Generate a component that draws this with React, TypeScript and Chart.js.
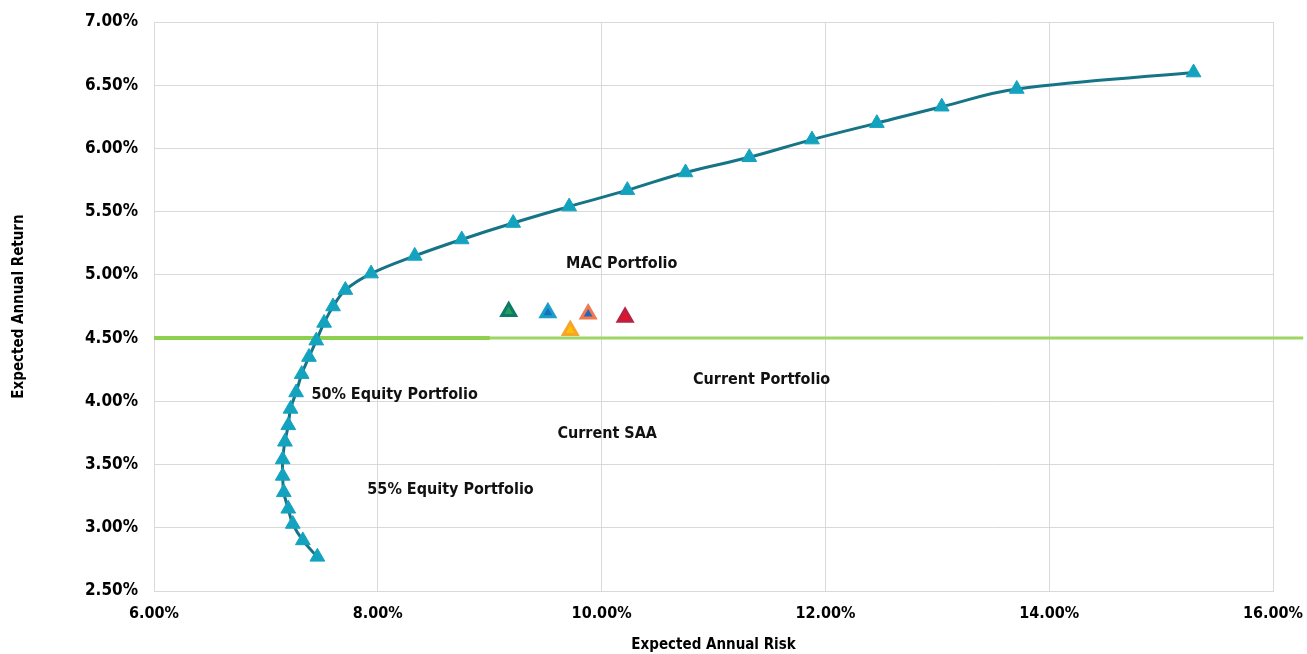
import React, { useEffect, useRef } from "react";
import { Chart, registerables } from "chart.js";

Chart.register(...registerables);

// Efficient frontier (Expected Annual Risk %, Expected Annual Return %)
const frontierRisk = [7.46, 7.33, 7.24, 7.2, 7.16, 7.15, 7.15, 7.17, 7.2, 7.22, 7.27, 7.32, 7.385, 7.45, 7.52, 7.6, 7.71, 7.94, 8.33, 8.75, 9.21, 9.71, 10.23, 10.75, 11.32, 11.88, 12.46, 13.04, 13.71, 15.29];
const frontierReturn = [2.77, 2.9, 3.03, 3.15, 3.28, 3.41, 3.54, 3.68, 3.81, 3.94, 4.07, 4.215, 4.35, 4.48, 4.62, 4.75, 4.88, 5.01, 5.15, 5.28, 5.41, 5.54, 5.67, 5.81, 5.93, 6.07, 6.2, 6.33, 6.47, 6.6];

// Individual portfolios
const portfolioNames = ["MAC Portfolio", "Current Portfolio", "50% Equity Portfolio", "Current SAA", "55% Equity Portfolio"];
const portfolioRisk = [9.17, 9.52, 9.88, 9.72, 10.21];
const portfolioReturn = [4.71, 4.7, 4.69, 4.56, 4.665];
const portfolioBorder = ["#0B7A68", "#1AA0C8", "#F2784F", "#F5A52A", "#B8213F"];
const portfolioFill = ["#22A05A", "#1A6FC0", "#2468B8", "#FFC000", "#E8102A"];

// Target return line
const targetReturn = 4.5;
const targetShortRisk = [6, 9];
const targetLongRisk = [6, 16.27];

// Text labels
const labelText = ["MAC Portfolio", "Current Portfolio", "50% Equity Portfolio", "Current SAA", "55% Equity Portfolio"];
const labelRisk = [10.18, 11.43, 8.15, 10.05, 8.65];
const labelReturn = [5.085, 4.17, 4.05, 3.74, 3.3];

// Axis ticks
const xMin = 6, xMax = 16, xStep = 2;
const yMin = 2.5, yMax = 7, yStep = 0.5;

const FONT = "'Liberation Sans Narrow', 'DejaVu Sans Condensed', 'Arial Narrow', sans-serif";

export default function App() {
  const ref = useRef<HTMLCanvasElement | null>(null);

  useEffect(() => {
    if (!ref.current) return;

    const labelPlugin = {
      id: "textLabels",
      afterDatasetsDraw(chart: any) {
        const { ctx, scales } = chart;
        const x = scales.x, y = scales.y;
        ctx.save();
        ctx.font = `bold 16px ${FONT}`;
        ctx.fillStyle = "#111111";
        ctx.textAlign = "center";
        ctx.textBaseline = "middle";
        labelText.forEach((t, i) => {
          ctx.fillText(t, x.getPixelForValue(labelRisk[i]), y.getPixelForValue(labelReturn[i]));
        });
        ctx.restore();
      },
    };

    const portfolioDatasets = portfolioNames.map((name, i) => ({
      label: name,
      data: [{ x: portfolioRisk[i], y: portfolioReturn[i] }],
      pointStyle: "triangle",
      pointRadius: 8,
      pointBackgroundColor: portfolioFill[i],
      pointBorderColor: portfolioBorder[i],
      pointBorderWidth: 3,
      showLine: false,
      order: 1,
    }));

    const chart = new Chart(ref.current, {
      type: "scatter",
      data: {
        datasets: [
          ...portfolioDatasets,
          {
            label: "Efficient Frontier",
            data: frontierRisk.map((r, i) => ({ x: r, y: frontierReturn[i] })),
            showLine: true,
            borderColor: "#167487",
            borderWidth: 3,
            tension: 0.4,
            pointStyle: "triangle",
            pointRadius: 8.5,
            pointBackgroundColor: "#14A3BF",
            pointBorderColor: "#14A3BF",
            pointBorderWidth: 1,
            order: 2,
          },
          {
            label: "Target (short)",
            data: targetShortRisk.map((r) => ({ x: r, y: targetReturn })),
            showLine: true,
            borderColor: "#8DCF4E",
            borderWidth: 4,
            pointRadius: 0,
            clip: false,
            order: 3,
          },
          {
            label: "Target",
            data: targetLongRisk.map((r) => ({ x: r, y: targetReturn })),
            showLine: true,
            borderColor: "#9ED663",
            borderWidth: 3,
            pointRadius: 0,
            clip: false,
            order: 4,
          },
        ] as any,
      },
      options: {
        responsive: false,
        animation: false,
        layout: { padding: { left: 0, right: 34, top: 22, bottom: 0 } },
        plugins: {
          legend: { display: false },
          tooltip: { enabled: false },
        },
        scales: {
          x: {
            type: "linear",
            min: xMin,
            max: xMax,
            ticks: {
              stepSize: xStep,
              padding: 13,
              color: "#000",
              font: { family: FONT, size: 16, weight: "bold" },
              callback: (v: any) => Number(v).toFixed(2) + "%",
            },
            grid: { color: "#D9D9D9", drawTicks: false },
            border: { color: "#D9D9D9" },
            title: {
              display: true,
              text: "Expected Annual Risk",
              color: "#000",
              font: { family: FONT, size: 15, weight: "bold" },
              padding: { top: 0, bottom: 0 },
            },
            afterFit: (s: any) => { s.height = 63; s.paddingLeft = 0; s.paddingRight = 0; },
          },
          y: {
            type: "linear",
            min: yMin,
            max: yMax,
            ticks: {
              stepSize: yStep,
              padding: 16,
              color: "#000",
              font: { family: FONT, size: 17, weight: "bold" },
              callback: (v: any) => Number(v).toFixed(2) + "%",
            },
            grid: { color: "#D9D9D9", drawTicks: false },
            border: { color: "#D9D9D9" },
            title: {
              display: true,
              text: "Expected Annual Return",
              color: "#000",
              font: { family: FONT, size: 15, weight: "bold" },
              padding: { top: 10, bottom: 0 },
            },
            afterFit: (s: any) => { s.width = 154; s.paddingTop = 0; s.paddingBottom = 0; },
          },
        },
      } as any,
      plugins: [labelPlugin],
    });

    return () => chart.destroy();
  }, []);

  return (
    <div style={{ position: "absolute", left: 0, top: 0, width: 1307, height: 654, background: "#fff" }}>
      <canvas ref={ref} width={1307} height={654} style={{ display: "block" }} />
    </div>
  );
}
